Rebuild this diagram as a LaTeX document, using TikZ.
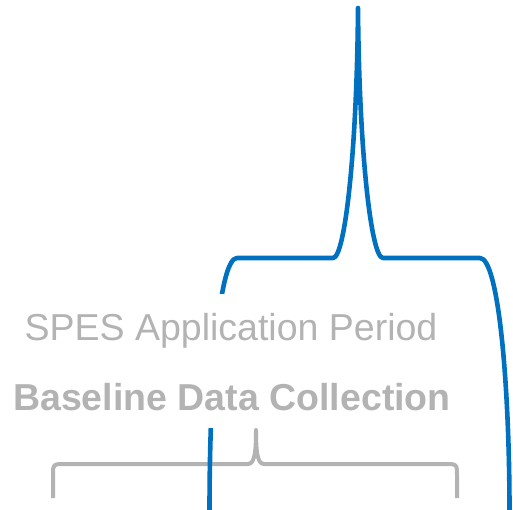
\documentclass[tikz,border=0pt]{standalone}
\usepackage{fontspec}
\setmainfont{Liberation Sans}
\definecolor{braceblue}{RGB}{0,112,192}
\definecolor{labelgray}{RGB}{179,179,179}
\begin{document}
\begin{tikzpicture}[x=1pt,y=-1pt,
  bluebrace/.style={draw=braceblue,line width=4.6pt,line join=round,line cap=round},
  graybrace/.style={draw=labelgray,line width=4pt,line join=round},
  graytext/.style={text=labelgray,font=\fontsize{37.5}{40}\selectfont,inner sep=0pt,anchor=base}]
\useasboundingbox (0,0) rectangle (513,509);
% lower brace (grey), tip pointing up
\path[graybrace] (53,498) -- (53,476) .. controls (53,464) .. (65,464) -- (248,464)
  .. controls (255,464) and (256,450) .. (256,430)
  .. controls (256,450) and (257,464) .. (264,464) -- (445,464)
  .. controls (457,464) .. (457,476) -- (457,498);
% upper brace (blue), tip pointing up, legs bending outwards
\path[bluebrace] (209.5,512) .. controls (209.5,370) and (220,258) .. (237,258) -- (333,258)
  .. controls (345,258) and (357,150) .. (358,8)
  .. controls (359,150) and (371,258) .. (383,258) -- (480,258)
  .. controls (498,258) and (509.5,380) .. (509.5,512);
% white panel behind the labels
\fill[white] (12,294) rectangle (456,428);
\node[graytext] (period) at (231,340) {SPES Application Period};
\node[graytext,font=\fontsize{37.5}{40}\selectfont\bfseries] (baseline) at (232,410) {Baseline Data Collection};
\end{tikzpicture}
\end{document}
